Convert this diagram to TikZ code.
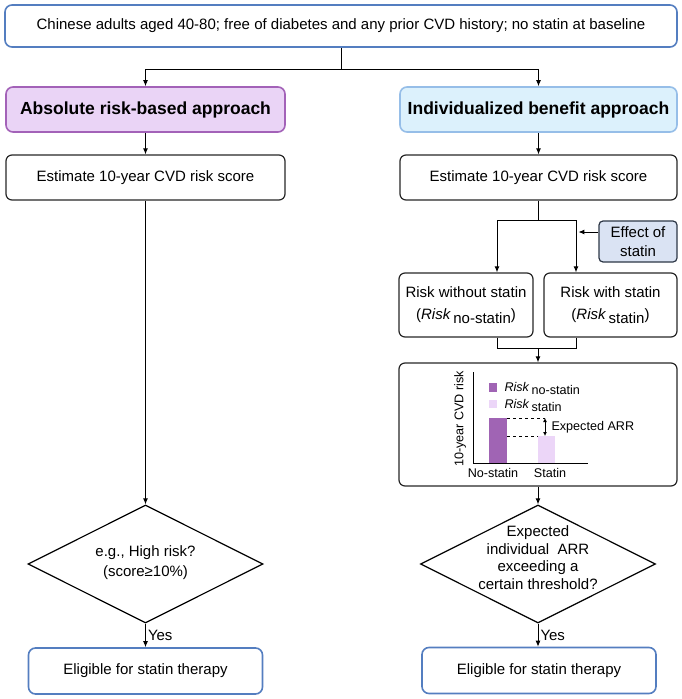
\documentclass[tikz,border=0pt]{standalone}
\usepackage{fontspec}
\setmainfont{Liberation Sans}
\usetikzlibrary{arrows.meta,shapes.geometric}

\definecolor{boxblue}{RGB}{84,126,192}
\definecolor{purpfill}{RGB}{234,212,246}
\definecolor{purpline}{RGB}{163,98,184}
\definecolor{cyanfill}{RGB}{220,241,252}
\definecolor{cyanline}{RGB}{150,190,232}
\definecolor{efffill}{RGB}{218,227,243}
\definecolor{effline}{RGB}{45,55,70}
\definecolor{barhi}{RGB}{160,100,180}
\definecolor{barlo}{RGB}{236,214,248}

\newcommand{\riskof}[1]{\textit{Risk}\,\raisebox{-0.45ex}{#1}}

\tikzset{
  base/.style={rectangle,rounded corners=6pt,draw,line width=1.2pt,inner sep=0pt,
    align=center,font=\fontsize{15}{19}\selectfont},
  bluebox/.style={base,draw=boxblue,line width=1.6pt,rounded corners=7pt},
  plainbox/.style={base,draw=black!85},
  headL/.style={base,fill=purpfill,draw=purpline,line width=1.6pt,rounded corners=7pt,font=\fontsize{17.5}{20}\selectfont\bfseries},
  headR/.style={base,fill=cyanfill,draw=cyanline,line width=1.6pt,rounded corners=7pt,font=\fontsize{17.5}{20}\selectfont\bfseries},
  effbox/.style={base,fill=efffill,draw=effline,rounded corners=4pt},
  decision/.style={diamond,draw,line width=1.2pt,inner sep=0pt,minimum width=235pt,minimum height=118pt},
  dtext/.style={align=center,font=\fontsize{15}{20}\selectfont},
  yes/.style={right,font=\fontsize{15}{18}\selectfont,inner sep=2pt},
  small/.style={font=\fontsize{12.6}{15}\selectfont,inner sep=0pt}
}

\begin{document}
\begin{tikzpicture}[x=1pt,y=-1pt,line width=1pt,>={Latex[length=6pt,width=5pt]}]
  \useasboundingbox (0,0) rectangle (682,699);

  \node[bluebox,minimum width=672pt,minimum height=42pt] (top) at (341,26)
    {Chinese adults aged 40-80; free of diabetes and any prior CVD history; no statin at baseline};

  \node[headL,minimum width=279pt,minimum height=45pt] (hL) at (145.5,109.5) {Absolute risk-based approach};
  \node[headR,minimum width=277pt,minimum height=45pt] (hR) at (538.5,109.5) {Individualized benefit approach};

  \node[plainbox,minimum width=279pt,minimum height=45pt] (eL) at (145.5,177.5) {Estimate 10-year CVD risk score};
  \node[plainbox,minimum width=277pt,minimum height=45pt] (eR) at (538.5,177.5) {Estimate 10-year CVD risk score};

  \node[effbox,minimum width=78pt,minimum height=41pt] (eff) at (638,241.5) {Effect of\\statin};

  \node[plainbox,minimum width=134pt,minimum height=64pt,font=\fontsize{15}{22}\selectfont] (rNo) at (466,305) {Risk without statin\\(\riskof{no-statin})};
  \node[plainbox,minimum width=133pt,minimum height=64pt,font=\fontsize{15}{22}\selectfont] (rS) at (610.5,305) {Risk with statin\\(\riskof{statin})};

  \node[plainbox,minimum width=278pt,minimum height=123pt] (chart) at (538,424.5) {};

  \node[decision] (dL) at (145.5,564) {};
  \node[dtext] (tL) at (145.5,563) {e.g., High risk?\\(score≥10\%)};
  \node[decision] (dR) at (538,564) {};
  \node[dtext,font=\fontsize{15}{17.7}\selectfont] (tR) at (538,557.5) {Expected\\individual~ ARR\\exceeding a\\certain threshold?};

  \node[bluebox,minimum width=234pt,minimum height=46pt] (fL) at (145.5,671) {Eligible for statin therapy};
  \node[bluebox,minimum width=234pt,minimum height=46pt] (fR) at (539,670.5) {Eligible for statin therapy};

  % split to the two approaches
  \coordinate (split) at (341,69);
  \draw (top.south) -- (split);
  \draw[->] (split) -| (hL.north);
  \draw[->] (split) -| (hR.north);
  \draw[->] (hL.south) -- (eL.north);
  \draw[->] (hR.south) -- (eR.north);

  % left branch
  \draw[->] (eL.south) -- (dL.north);
  \draw[->] (dL.south) -- node[yes] {Yes} (fL.north);

  % right branch
  \coordinate (kL) at (497,220);
  \coordinate (kR) at (576,220);
  \coordinate (jn) at (538,348);
  \draw (eR.south) -- (eR.south |- kL);
  \draw (kL) -- (kR);
  \draw[->] (kL) -- (kL |- rNo.north);
  \draw[->] (kR) -- (kR |- rS.north);
  \draw[->] ([yshift=9.5pt]eff.west) -- ++(-20,0);
  \draw (kL |- rNo.south) -- (kL |- jn) -- (kR |- jn) -- (kR |- rS.south);
  \draw[->] (jn) -- (chart.north);
  \draw[->] (chart.south) -- (dR.north);
  \draw[->] (dR.south) -- node[yes] {Yes} (dR.south |- fR.north);

  % bar chart inside the box
  \draw[line width=0.8pt] (473,372) -- (473,463) -- (588,463);
  \fill[barhi] (489,418) rectangle (507,463);
  \fill[barlo] (538,436) rectangle (555,463);
  \draw[dashed,line width=0.6pt] (507,418) -- (545,418);
  \draw[dashed,line width=0.6pt] (507,436) -- (538,436);
  \draw[<->,line width=0.8pt,>={Latex[length=4pt,width=4pt]}] (545,418) -- (545,436);
  \node[small,anchor=west] (arr) at (551,427) {Expected ARR};
  \fill[barhi] (489,383) rectangle (497,392);
  \fill[barlo] (489,400) rectangle (497,408);
  \node[small,anchor=west] (lgA) at (504,388) {\riskof{no-statin}};
  \node[small,anchor=west] (lgB) at (504,405) {\riskof{statin}};
  \node[small,rotate=90] (ylab) at (460,419) {10-year CVD risk};
  \node[small] (xA) at (493,473) {No-statin};
  \node[small] (xB) at (550,473) {Statin};
\end{tikzpicture}
\end{document}
